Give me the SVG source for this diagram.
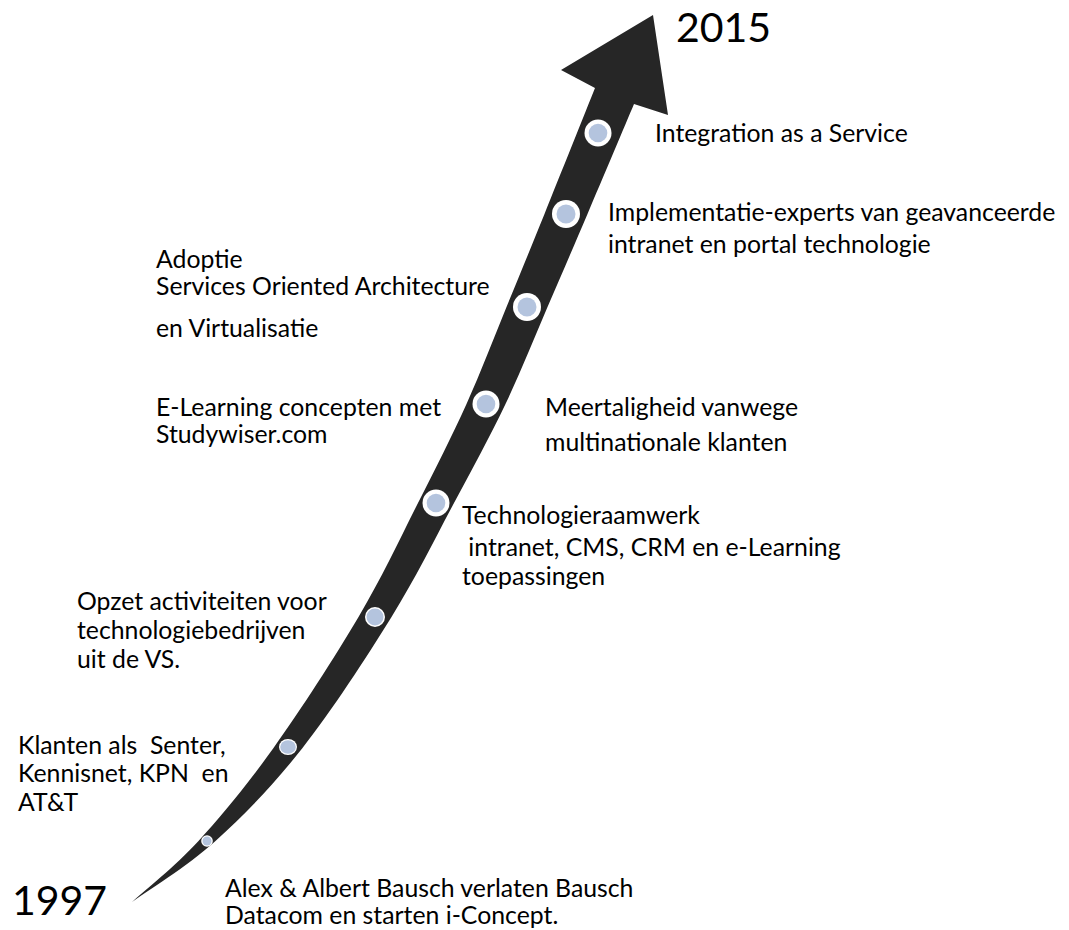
<svg xmlns="http://www.w3.org/2000/svg" width="1069" height="930" viewBox="0 0 1069 930">
<style>
.t{font-family:Lato,"Liberation Sans",sans-serif;font-size:24.8px;fill:#000}
.y{font-family:Lato,"Liberation Sans",sans-serif;font-size:41px;fill:#000}
.ring{fill:#fff}
.dot{fill:#b4c4de}
</style>
<rect width="1069" height="930" fill="#fff"/>
<g id="connectors">
<path id="arrow" fill="#262626" d="M132,902 C143.1,891.8 174.9,866.7 198.5,841 C222.1,815.3 246.8,785.3 273.5,748 C300.2,710.7 334.4,657.8 358.5,617 C382.6,576.2 400,538.5 418,503 C436,467.5 451.75,436.7 466.5,404 C481.25,371.3 493.5,338.7 506.5,307 C519.5,275.3 529.75,250.5 544.5,214 C559.25,177.5 586.6,109 595,88 L561,70 L653,15 L668,115 L634,104 C626.3,122.3 601.9,180.2 587.5,214 C573.1,247.8 561.2,275.3 547.5,307 C533.8,338.7 521.1,371.3 505.5,404 C489.9,436.7 473,467.5 454,503 C435,538.5 416.75,576.2 391.5,617 C366.25,657.8 331.8,710.7 302.5,748 C273.2,785.3 243.9,815.3 215.5,841 C187.1,866.7 145.9,891.8 132,902 Z"/>
</g>
<g id="m1"><circle class="ring" cx="598" cy="133" r="13.5"/><circle class="dot" cx="598" cy="133" r="9.3"/></g>
<g id="m2"><circle class="ring" cx="566" cy="214" r="14"/><circle class="dot" cx="566" cy="214" r="9.5"/></g>
<g id="m3"><circle class="ring" cx="527" cy="307" r="14"/><circle class="dot" cx="527" cy="307" r="9.5"/></g>
<g id="m4"><circle class="ring" cx="486" cy="404" r="13.5"/><circle class="dot" cx="486" cy="404" r="9.3"/></g>
<g id="m5"><circle class="ring" cx="436" cy="503" r="13.5"/><circle class="dot" cx="436" cy="503" r="9.3"/></g>
<g id="m6"><circle class="ring" cx="375" cy="617" r="10"/><circle class="dot" cx="375" cy="617" r="8.5"/></g>
<g id="m7"><ellipse class="ring" cx="288" cy="747" rx="9" ry="8"/><ellipse class="dot" cx="288" cy="747" rx="7.8" ry="6.8"/></g>
<g id="m8"><circle class="ring" cx="207" cy="841" r="5.8"/><circle class="dot" cx="207" cy="841" r="4.5"/></g>
<g id="y2015"><text class="y" x="676" y="42">2015</text></g>
<g id="y1997"><text class="y" x="12" y="915">1997</text></g>
<g id="n1"><text class="t" x="655" y="142">Integration as a Service</text></g>
<g id="n2"><text class="t" x="608" y="221">Implementatie-experts van geavanceerde</text><text class="t" x="608" y="253">intranet en portal technologie</text></g>
<g id="n3"><text class="t" x="156" y="268">Adoptie</text><text class="t" x="156" y="295">Services Oriented Architecture</text><text class="t" x="156" y="337">en Virtualisatie</text></g>
<g id="n4"><text class="t" x="545" y="416">Meertaligheid vanwege</text><text class="t" x="545" y="451">multinationale klanten</text></g>
<g id="n5"><text class="t" x="156" y="416">E-Learning concepten met</text><text class="t" x="156" y="443">Studywiser.com</text></g>
<g id="n6"><text class="t" x="462" y="524">Technologieraamwerk</text><text class="t" x="462" y="556" xml:space="preserve"> intranet, CMS, CRM en e-Learning</text><text class="t" x="462" y="585">toepassingen</text></g>
<g id="n7"><text class="t" x="77" y="610">Opzet activiteiten voor</text><text class="t" x="77" y="639">technologiebedrijven</text><text class="t" x="77" y="668">uit de VS.</text></g>
<g id="n8"><text class="t" x="18" y="754" xml:space="preserve">Klanten als  Senter,</text><text class="t" x="18" y="782" xml:space="preserve">Kennisnet, KPN  en</text><text class="t" x="18" y="811">AT&amp;T</text></g>
<g id="n9"><text class="t" x="225" y="897">Alex &amp; Albert Bausch verlaten Bausch</text><text class="t" x="225" y="924">Datacom en starten i-Concept.</text></g>
</svg>
